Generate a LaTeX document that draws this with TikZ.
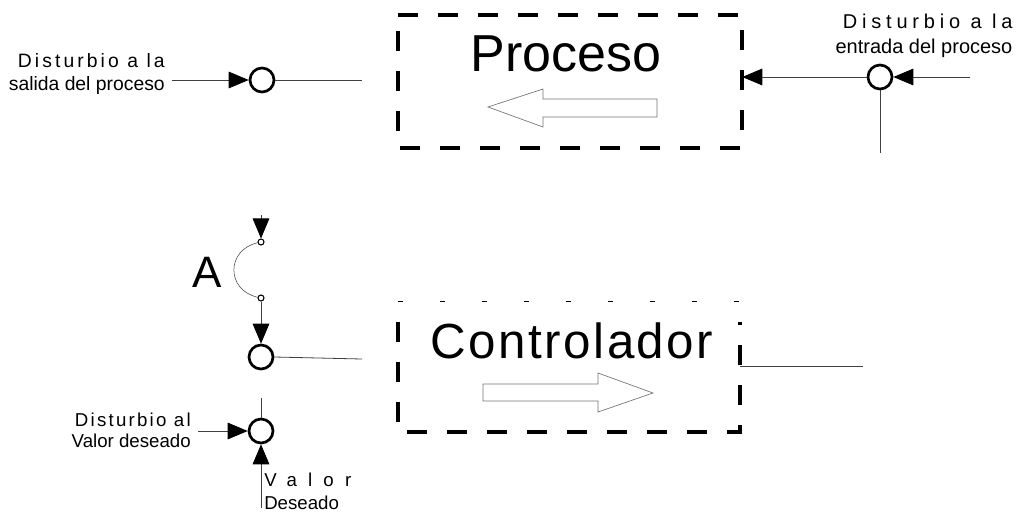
\documentclass[tikz,border=0pt]{standalone}
\usepackage{fontspec}
\setmainfont{Liberation Sans}
\newfontfamily\espaciada[LetterSpace=24]{Liberation Sans}
\newfontfamily\espaciadacorta[LetterSpace=16]{Liberation Sans}
\newfontfamily\espaciadamedia[LetterSpace=12]{Liberation Sans}
\newfontfamily\muyespaciada[LetterSpace=60]{Liberation Sans}
\newfontfamily\ancha[LetterSpace=5]{Liberation Sans}
\usetikzlibrary{arrows.meta}

\begin{document}
\begin{tikzpicture}[x=0.75pt, y=-0.75pt,
        linea/.style={draw=black!75, line width=0.6pt},
        flecha/.style={linea, -{Triangle[length=15pt, width=12.5pt, color=black]}},
        suma/.style={circle, draw, line width=2pt, minimum size=18pt, inner sep=0pt},
        contacto/.style={circle, draw, line width=0.8pt, minimum size=4.5pt, inner sep=0pt},
        bloque/.style={draw, line width=3pt, dash pattern=on 15pt off 15pt},
        hueca/.style={draw=black!55, line width=0.5pt},
        texto/.style={inner sep=0pt}]
            \useasboundingbox (0,0) rectangle (1023,514);

            % bloque del proceso
            \node[minimum width=258pt, minimum height=99.75pt, inner sep=0pt] (proceso) at (570,81.5) {};
            \draw[bloque] (proceso.north west) -- (proceso.north east) -- (proceso.south east) -- (proceso.south west) -- cycle;
            \node[texto, anchor=base, font=\fontsize{39}{39}\selectfont] (txtProceso) at (566,71) {Proceso};
            \draw[hueca] (657,99) -- (543,99) -- (543,89) -- (488,107) -- (543,127) -- (543,117) -- (657,117) -- cycle;

            % bloque del controlador
            \node[minimum width=256.5pt, minimum height=97.5pt, inner sep=0pt] (controlador) at (569,367) {};
            \draw[line width=1pt, dash pattern=on 4pt off 27.5pt] (controlador.north west) -- (controlador.north east);
            \draw[bloque] ([yshift=-15pt]controlador.north west) -- (controlador.south west) -- (controlador.south east) -- ([yshift=-15pt]controlador.north east);
            \node[texto, anchor=base, font=\ancha\fontsize{37}{37}\selectfont] (txtControlador) at (572,358) {Controlador};
            \draw[hueca] (483,384) -- (598,384) -- (598,373) -- (653,393) -- (598,412) -- (598,401) -- (483,401) -- cycle;

            % disturbio a la salida
            \node[texto, anchor=east, align=right, font=\fontsize{14.5}{17}\selectfont] (txtSalida) at (165,74) {{\espaciadacorta Disturbio a la}\\salida del proceso};
            \node[suma] (sumSalida) at (262,80) {};
            \coordinate (inSalida) at (172,80);
            \coordinate (outSalida) at (362,80);
            \draw[flecha] (inSalida) -- (sumSalida);
            \draw[linea] (sumSalida) -- (outSalida);

            % disturbio a la entrada
            \node[texto, align=right, font=\fontsize{15}{19}\selectfont] (txtEntrada) at (924,36) {{\espaciada Disturbio a la}\\entrada del proceso};
            \node[suma] (sumEntrada) at (880,77) {};
            \coordinate (inEntrada) at (970,77);
            \coordinate (bajoEntrada) at (880,153);
            \draw[flecha] (inEntrada) -- (sumEntrada);
            \draw[flecha] (sumEntrada) -- (sumEntrada -| proceso.east);
            \draw[linea] (sumEntrada) -- (bajoEntrada);

            % interruptor A
            \node[texto, font=\fontsize{33}{33}\selectfont] (letraA) at (207,272) {A};
            \coordinate (inA) at (261,215);
            \node[contacto] (contA1) at (261,242) {};
            \node[contacto] (contA2) at (261,298) {};
            \draw[flecha] (inA) -- (contA1);
            \draw[linea, line width=0.4pt] (contA1) .. controls (226,250) and (226,290) .. (contA2);

            % suma del controlador
            \node[suma] (sumCtrl) at (261,357) {};
            \coordinate (outCtrl) at (362,359);
            \draw[flecha] (contA2) -- (sumCtrl);
            \draw[linea] (sumCtrl.east) -- (outCtrl);
            \coordinate (salidaCtrl) at (863,366);
            \draw[linea] (salidaCtrl -| controlador.east) -- (salidaCtrl);

            % valor deseado
            \node[suma] (sumValor) at (261,431) {};
            \node[texto, anchor=east, align=right, font=\fontsize{14}{16}\selectfont] (txtDistValor) at (191,430) {{\espaciadamedia Disturbio al}\\Valor deseado};
            \node[texto, anchor=west, align=left, font=\fontsize{14}{17}\selectfont] (txtValor) at (264,491) {{\muyespaciada Valor}\\Deseado};
            \coordinate (inDist) at (198,431);
            \coordinate (inValor) at (261,508);
            \coordinate (sobreValor) at (261,398);
            \draw[flecha] (inDist) -- (sumValor);
            \draw[flecha] (inValor) -- (sumValor);
            \draw[linea] (sumValor) -- (sobreValor);
        \end{tikzpicture}
\end{document}
